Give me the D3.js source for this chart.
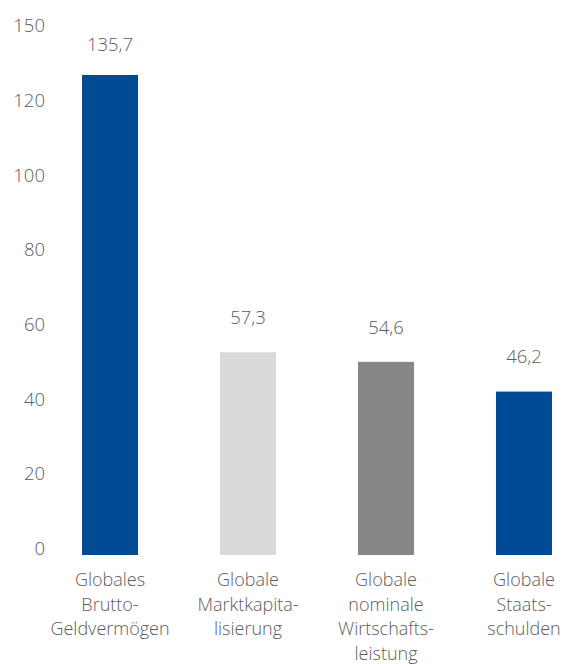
<!DOCTYPE html>
<html>
<head>
<meta charset="utf-8">
<script src="https://cdn.jsdelivr.net/npm/d3@7"></script>
<style>
  html, body { margin: 0; padding: 0; background: #fff; }
  svg { display: block; }
  text { font-family: "Open Sans", sans-serif; font-weight: 300; fill: #5c5c5c; }
</style>
</head>
<body>
<svg id="chart" width="572" height="664"></svg>
<script>
// ---- data ----
const categories = [
  ["Globales", "Brutto-", "Geldvermögen"],
  ["Globale", "Marktkapita-", "lisierung"],
  ["Globale", "nominale", "Wirtschafts-", "leistung"],
  ["Globale", "Staats-", "schulden"]
];
const values = [135.7, 57.3, 54.6, 46.2];
const valueLabels = ["135,7", "57,3", "54,6", "46,2"];
const barColors = ["#004B93", "#D9D9D9", "#878787", "#004B93"];
const tickLabels = ["0", "20", "40", "60", "80", "100", "120", "150"];

const svg = d3.select("#chart");
const keys = categories.map((c, i) => i);

// scales
const x = d3.scaleBand()
  .domain(keys)
  .range([41, 593])
  .paddingInner(0.594)
  .paddingOuter(0.297);

const yBar = d3.scaleLinear().domain([0, 150]).range([555, 24.4]);
const yAxisPos = d3.scalePoint().domain(tickLabels).range([548, 25]);

// y-axis labels (evenly spaced)
const yAxis = d3.axisLeft(yAxisPos).tickSize(0).tickPadding(0);
const gy = svg.append("g").attr("transform", "translate(45,0)").call(yAxis);
gy.select(".domain").remove();
gy.selectAll("text")
  .attr("font-family", null)
  .attr("font-size", null)
  .attr("fill", null)
  .style("font-size", "18.5px")
  .attr("dy", "0.36em");

// bars
svg.append("g").selectAll("rect")
  .data(values)
  .join("rect")
  .attr("x", (d, i) => x(i))
  .attr("width", x.bandwidth())
  .attr("y", d => yBar(d))
  .attr("height", d => yBar(0) - yBar(d))
  .attr("fill", (d, i) => barColors[i]);

// value labels
const yLab = d3.scaleLinear().domain([0, 150]).range([548, 25]);
svg.append("g").selectAll("text")
  .data(values)
  .join("text")
  .attr("x", (d, i) => x(i) + x.bandwidth() / 2)
  .attr("y", d => yLab(d) - 24)
  .attr("text-anchor", "middle")
  .style("font-size", "18.5px")
  .text((d, i) => valueLabels[i]);

// category labels
const xAxis = d3.axisBottom(x).tickSize(0).tickPadding(0).tickFormat(() => "");
const gx = svg.append("g").attr("transform", "translate(0,555)").call(xAxis);
gx.select(".domain").remove();
gx.selectAll(".tick").each(function(k) {
  const t = d3.select(this).append("text")
    .attr("text-anchor", "middle")
    .style("font-size", "18px")
    .attr("y", 31);
  categories[k].forEach((line, j) => {
    t.append("tspan").attr("x", 0).attr("dy", j === 0 ? 0 : 24.5).text(line);
  });
});
</script>
</body>
</html>
